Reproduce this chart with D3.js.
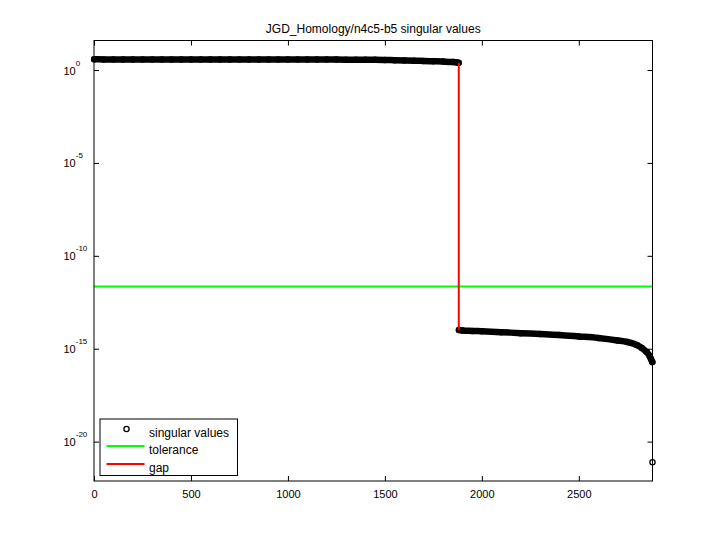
<!DOCTYPE html>
<html>
<head>
<meta charset="utf-8">
<script src="https://cdn.jsdelivr.net/npm/d3@7"></script>
<style>
  html, body { margin: 0; padding: 0; background: #fff; }
  svg { display: block; font-family: "Liberation Sans", Arial, Helvetica, sans-serif; }
</style>
</head>
<body>
<svg id="chart" width="720" height="540"></svg>
<script>
// ---------------- data ----------------
const titleText = "JGD_Homology/n4c5-b5 singular values";
const nValues = 2880;

// large singular values (index, value)
const topIndex = [1, 50, 100, 150, 200, 250, 300, 350, 400, 450, 500, 550, 600, 650, 700, 750, 800, 850, 900, 950,
  1000, 1050, 1100, 1150, 1200, 1250, 1300, 1350, 1400, 1450, 1500, 1550, 1600, 1650, 1700, 1750, 1800, 1850, 1870, 1881];
const topValue = [3.78, 3.74, 3.73, 3.73, 3.72, 3.72, 3.71, 3.71, 3.70, 3.70, 3.70, 3.69, 3.69, 3.69, 3.68, 3.68, 3.68, 3.67, 3.67, 3.67,
  3.66, 3.66, 3.65, 3.65, 3.64, 3.64, 3.63, 3.62, 3.61, 3.58, 3.50, 3.40, 3.30, 3.20, 3.08, 2.97, 2.86, 2.70, 2.58, 2.45];

// small singular values (index, value)
const lowIndex = [1882, 1900, 1950, 2000, 2100, 2200, 2300, 2400, 2500, 2600, 2700, 2750, 2800, 2825, 2850, 2865, 2872, 2879];
const lowValue = [1.02e-14, 9.6e-15, 9.1e-15, 8.7e-15, 7.8e-15, 6.9e-15, 6.2e-15, 5.5e-15, 4.6e-15, 3.8e-15, 2.8e-15, 2.3e-15,
  1.58e-15, 1.1e-15, 6.6e-16, 4.1e-16, 2.8e-16, 1.9e-16];

// last, isolated singular value
const lastIndex = [2880];
const lastValue = [7.8e-22];

const tolerance = 2.2e-12;
const gapIndex = 1881;           // gap between s(1881) and s(1882)

const xTicks = [0, 500, 1000, 1500, 2000, 2500];
const yTickExponents = [0, -5, -10, -15, -20];
const legendLabels = ["singular values", "tolerance", "gap"];

// ---------------- layout ----------------
const svg = d3.select("#chart");
const L = 94, R = 652.5, T = 40.5, B = 481;

const x = d3.scaleLinear().domain([0, nValues]).range([L, R]);
const y = d3.scaleLog().domain([Math.pow(10, 1.59), Math.pow(10, -22.12)]).range([T, B]);

const g = svg.append("g");

// tolerance line
g.append("line")
  .attr("x1", x(0)).attr("x2", x(nValues))
  .attr("y1", y(tolerance)).attr("y2", y(tolerance))
  .attr("stroke", "#00ff00").attr("stroke-width", 2);

// singular values: dense markers (drawn as a band through the points + circles)
const topPts = topIndex.map((d, i) => [d, topValue[i]]);
const lowPts = lowIndex.map((d, i) => [d, lowValue[i]]);
const lastPts = lastIndex.map((d, i) => [d, lastValue[i]]);

const line = d3.line().x(d => x(d[0])).y(d => y(d[1])).curve(d3.curveMonotoneX);
[topPts, lowPts].forEach(pts => {
  g.append("path").attr("d", line(pts))
    .attr("fill", "none").attr("stroke", "#000").attr("stroke-width", 6.5)
    .attr("stroke-linecap", "round").attr("stroke-linejoin", "round");
});
g.selectAll("circle.sv").data(topPts.concat(lowPts, lastPts)).enter()
  .append("circle").attr("class", "sv")
  .attr("cx", d => x(d[0])).attr("cy", d => y(d[1]))
  .attr("r", 2.6).attr("fill", "none").attr("stroke", "#000").attr("stroke-width", 1.3);

// gap line
g.append("line")
  .attr("x1", x(gapIndex)).attr("x2", x(gapIndex))
  .attr("y1", y(topValue[topValue.length - 1])).attr("y2", y(lowValue[0]))
  .attr("stroke", "#ff0000").attr("stroke-width", 2);

// ---------------- axes ----------------
const axG = svg.append("g").attr("class", "axes");
const styleAxis = sel => {
  sel.select(".domain").remove();
  sel.selectAll(".tick line").attr("stroke", "#000").attr("stroke-width", 1);
};
axG.append("g").attr("transform", `translate(0,${B})`)
  .call(d3.axisBottom(x).tickValues(xTicks).tickSize(-5).tickPadding(9).tickFormat(d3.format("d")))
  .call(styleAxis)
  .call(s => s.selectAll("text").attr("font-size", 11).attr("fill", "#000")
    .attr("font-family", "Liberation Sans, Arial, sans-serif"));
axG.append("g").attr("transform", `translate(0,${T})`)
  .call(d3.axisTop(x).tickValues(xTicks).tickSize(-5).tickFormat(""))
  .call(styleAxis);
const yTickVals = yTickExponents.map(e => Math.pow(10, e));
axG.append("g").attr("transform", `translate(${L},0)`)
  .call(d3.axisLeft(y).tickValues(yTickVals).tickSize(-5).tickFormat(""))
  .call(styleAxis);
axG.append("g").attr("transform", `translate(${R},0)`)
  .call(d3.axisRight(y).tickValues(yTickVals).tickSize(-5).tickFormat(""))
  .call(styleAxis);

// frame
axG.append("rect").attr("x", L).attr("y", T).attr("width", R - L).attr("height", B - T)
  .attr("fill", "none").attr("stroke", "#000").attr("stroke-width", 1);

// y tick labels 10^e
yTickExponents.forEach(e => {
  const t = axG.append("text").attr("x", 63.5).attr("y", y(Math.pow(10, e)) + 4.5)
    .attr("font-size", 11).attr("fill", "#000");
  t.append("tspan").text("10");
  t.append("tspan").attr("dy", -9).attr("font-size", 8).text(String(e).replace("-", "-"));
});

// title
svg.append("text").attr("x", (L + R) / 2).attr("y", 33)
  .attr("text-anchor", "middle").attr("font-size", 12).attr("fill", "#000").text(titleText);

// ---------------- legend ----------------
const lg = svg.append("g");
lg.append("rect").attr("x", 100).attr("y", 419).attr("width", 137.5).attr("height", 56.5)
  .attr("fill", "#fff").attr("stroke", "#000").attr("stroke-width", 1);
const rowsY = [429, 446, 464];
lg.append("circle").attr("cx", 126.5).attr("cy", rowsY[0]).attr("r", 2.6)
  .attr("fill", "none").attr("stroke", "#000").attr("stroke-width", 1.3);
lg.append("line").attr("x1", 106.5).attr("x2", 144.5).attr("y1", rowsY[1]).attr("y2", rowsY[1])
  .attr("stroke", "#00ff00").attr("stroke-width", 2);
lg.append("line").attr("x1", 106.5).attr("x2", 144.5).attr("y1", rowsY[2]).attr("y2", rowsY[2])
  .attr("stroke", "#ff0000").attr("stroke-width", 2);
legendLabels.forEach((lab, i) => {
  lg.append("text").attr("x", 149).attr("y", rowsY[i] + 7.5)
    .attr("font-size", 12).attr("fill", "#000").text(lab);
});
</script>
</body>
</html>
